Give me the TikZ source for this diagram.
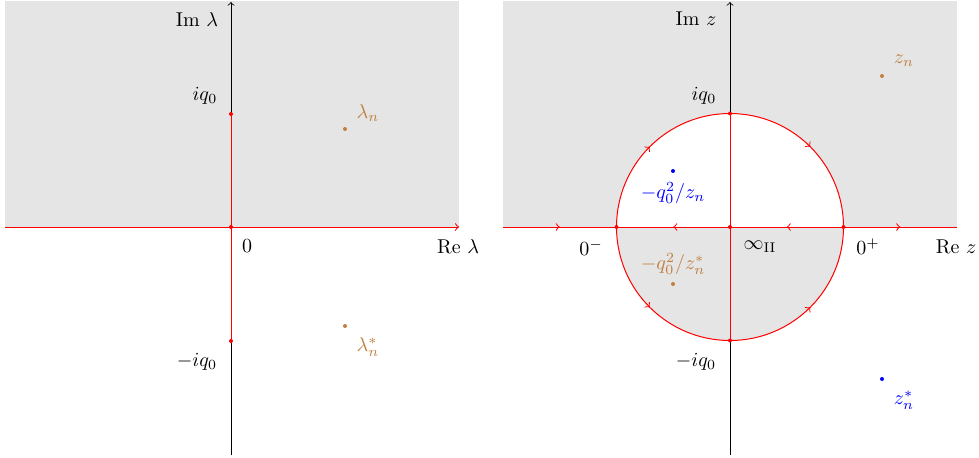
\documentclass[tikz,border=0pt]{standalone}
\usetikzlibrary{decorations.markings}
\definecolor{lightgr}{gray}{0.9}
\definecolor{brn}{rgb}{0.75,0.5,0.25}
\tikzset{
  redline/.style={red, line width=0.5pt},
  midarrow/.style={postaction={decorate,decoration={markings,mark=at position 0.5 with {\arrow[red]{>}}}}},
  rdot/.style={circle, fill=red, inner sep=0pt, minimum size=2pt},
  bdot/.style={circle, fill=brn, inner sep=0pt, minimum size=2pt},
  bldot/.style={circle, fill=blue, inner sep=0pt, minimum size=2pt},
  lbl/.style={inner sep=0pt, anchor=center},
}
\begin{document}
\begin{tikzpicture}[x=0.5pt,y=0.5pt]
\useasboundingbox (0,0) rectangle (979,457);
% ---------------- left panel ----------------
\fill[lightgr] (5,230) rectangle (459,456);
\coordinate (Ol) at (231,230);
\coordinate (Tl) at (231,343);
\coordinate (Bl) at (231,116);
\coordinate (Wl) at (5,230);
\coordinate (El) at (459,230);
\coordinate (Sl) at (231,2);
\coordinate (Nl) at (231,455);
\draw[->, line width=0.4pt] (Sl) -- (Nl);
\draw[redline, ->] (Wl) -- (El);
\draw[redline] (Bl) -- (Tl);
\node[rdot] (dTl) at (Tl) {};
\node[rdot] (dOl) at (Ol) {};
\node[rdot] (dBl) at (Bl) {};
\node[bdot] (ln) at (345,328) {};
\node[bdot] (lns) at (345,131) {};
\node[lbl, text=brn] (lnl) at (368,344) {$\lambda_n$};
\node[lbl, text=brn] (lnsl) at (368,110) {$\lambda_n^*$};
\node[lbl] (iml) at (197,437) {Im $\lambda$};
\node[lbl] (iql) at (205,361) {$iq_0$};
\node[lbl] (miql) at (197,95) {$-iq_0$};
\node[lbl] (zl) at (247,211) {$0$};
\node[lbl] (rel) at (458,210) {Re $\lambda$};
% ---------------- right panel ----------------
\fill[lightgr] (503,230) rectangle (957,456);
\coordinate (Oz) at (730,230);
\coordinate (Lz) at (616.5,230);
\coordinate (Rz) at (843.5,230);
\coordinate (Tz) at (730,343.5);
\coordinate (Bz) at (730,116.5);
\coordinate (Wz) at (503,230);
\coordinate (Ez) at (957,230);
\coordinate (Sz) at (730,2);
\coordinate (Nz) at (730,455);
\fill[white] (Lz) arc[start angle=180, end angle=0, radius=56.75pt] -- cycle;
\fill[lightgr] (Lz) arc[start angle=180, end angle=360, radius=56.75pt] -- cycle;
\draw[->, line width=0.4pt] (Sz) -- (Nz);
\draw[redline, midarrow] (Wz) -- (Lz);
\draw[redline, midarrow] (Oz) -- (Lz);
\draw[redline, midarrow] (Rz) -- (Oz);
\draw[redline, midarrow] (Rz) -- (Ez);
\draw[redline] (Bz) -- (Tz);
\draw[redline, midarrow] (Lz) arc[start angle=180, end angle=90, radius=56.75pt];
\draw[redline, midarrow] (Tz) arc[start angle=90, end angle=0, radius=56.75pt];
\draw[redline, midarrow] (Lz) arc[start angle=180, end angle=270, radius=56.75pt];
\draw[redline, midarrow] (Bz) arc[start angle=270, end angle=360, radius=56.75pt];
\node[rdot] (dOz) at (Oz) {};
\node[rdot] (dLz) at (Lz) {};
\node[rdot] (dRz) at (Rz) {};
\node[rdot] (dTz) at (Tz) {};
\node[rdot] (dBz) at (Bz) {};
\node[bdot] (zn) at (882,381) {};
\node[bldot] (zns) at (882,78) {};
\node[bldot] (qzn) at (673,286) {};
\node[bdot] (qzns) at (673,173) {};
\node[lbl, text=brn] (znl) at (904,396) {$z_n$};
\node[lbl, text=blue] (znsl) at (904,57) {$z_n^*$};
\node[lbl, text=blue] (qznl) at (673,264) {$-q_0^2/z_n$};
\node[lbl, text=brn] (qznsl) at (673,193) {$-q_0^2/z_n^*$};
\node[lbl] (imz) at (696,438) {Im $z$};
\node[lbl] (iqz) at (704,361) {$iq_0$};
\node[lbl] (miqz) at (696,95) {$-iq_0$};
\node[lbl] (zm) at (591,209) {$0^-$};
\node[lbl] (inf) at (760,210) {$\infty_{\mathrm{II}}$};
\node[lbl] (zp) at (868,210) {$0^+$};
\node[lbl] (rez) at (956,210) {Re $z$};
\end{tikzpicture}
\end{document}
